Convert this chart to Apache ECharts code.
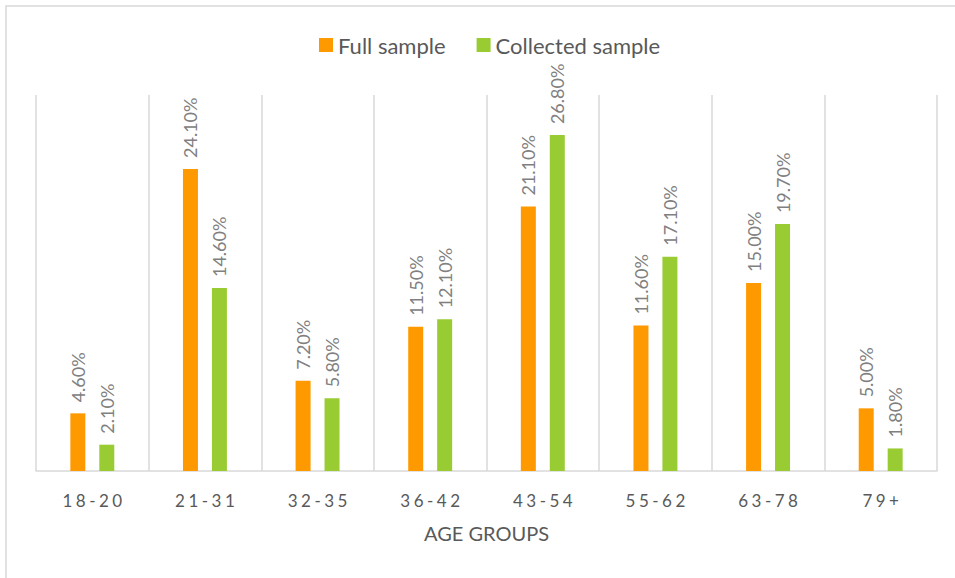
<!DOCTYPE html>
<html>
<head>
<meta charset="utf-8">
<script src="https://cdn.jsdelivr.net/npm/echarts@6/dist/echarts.min.js"></script>
<style>
  html, body { margin: 0; padding: 0; background: #fff; }
  #chart { width: 955px; height: 578px; }
</style>
</head>
<body>
<div id="chart"></div>
<script>
// Age groups and the share of each sample falling in them (percent)
const ageGroups = ['18-20', '21-31', '32-35', '36-42', '43-54', '55-62', '63-78', '79+'];
const fullSample = [4.6, 24.1, 7.2, 11.5, 21.1, 11.6, 15.0, 5.0];
const collectedSample = [2.1, 14.6, 5.8, 12.1, 26.8, 17.1, 19.7, 1.8];

const FONT = 'Lato, "Open Sans", sans-serif';

const valueLabel = {
  show: true,
  position: 'top',
  rotate: 90,
  align: 'left',
  verticalAlign: 'middle',
  distance: 11,
  color: '#808080',
  fontSize: 18,
  fontFamily: FONT,
  formatter: p => p.value.toFixed(2) + '%'
};

const chart = echarts.init(document.getElementById('chart'), null, { renderer: 'svg' });
chart.setOption({
  animation: false,
  graphic: [{
    type: 'rect',
    shape: { x: 6, y: 6, width: 1000, height: 1000 },
    style: { fill: 'none', stroke: '#d9d9d9', lineWidth: 1.5 },
    silent: true
  }],
  legend: {
    top: 29,
    left: 314,
    itemWidth: 14,
    itemHeight: 14,
    itemGap: 31,
    icon: 'rect',
    textStyle: { color: '#595959', fontSize: 22, fontFamily: FONT }
  },
  grid: { left: 36, right: 18, top: 95, bottom: 107 },
  xAxis: {
    type: 'category',
    data: ageGroups,
    name: 'AGE GROUPS',
    nameLocation: 'middle',
    nameGap: 52,
    nameTextStyle: { color: '#595959', fontSize: 20, fontFamily: FONT },
    axisLine: { lineStyle: { color: '#d9d9d9', width: 1.5 } },
    axisTick: { show: false },
    axisLabel: { color: '#595959', fontSize: 17, margin: 21, fontFamily: FONT },
    splitLine: { show: true, lineStyle: { color: '#d9d9d9', width: 1.5 } }
  },
  yAxis: {
    type: 'value',
    min: 0,
    max: 30,
    show: false
  },
  series: [
    {
      name: 'Full sample',
      type: 'bar',
      data: fullSample,
      barWidth: 15,
      barGap: '93%',
      itemStyle: { color: '#ff9900' },
      label: valueLabel
    },
    {
      name: 'Collected sample',
      type: 'bar',
      data: collectedSample,
      barWidth: 15,
      itemStyle: { color: '#99cc33' },
      label: valueLabel
    }
  ]
});

// Category labels are set with wide tracking
function spaceCategoryLabels() {
  document.querySelectorAll('#chart svg text').forEach(t => {
    if (ageGroups.includes(t.textContent)) {
      t.setAttribute('letter-spacing', '3.5');
      t.setAttribute('dx', '1.75');
    }
  });
}
spaceCategoryLabels();
chart.on('finished', spaceCategoryLabels);
</script>
</body>
</html>
